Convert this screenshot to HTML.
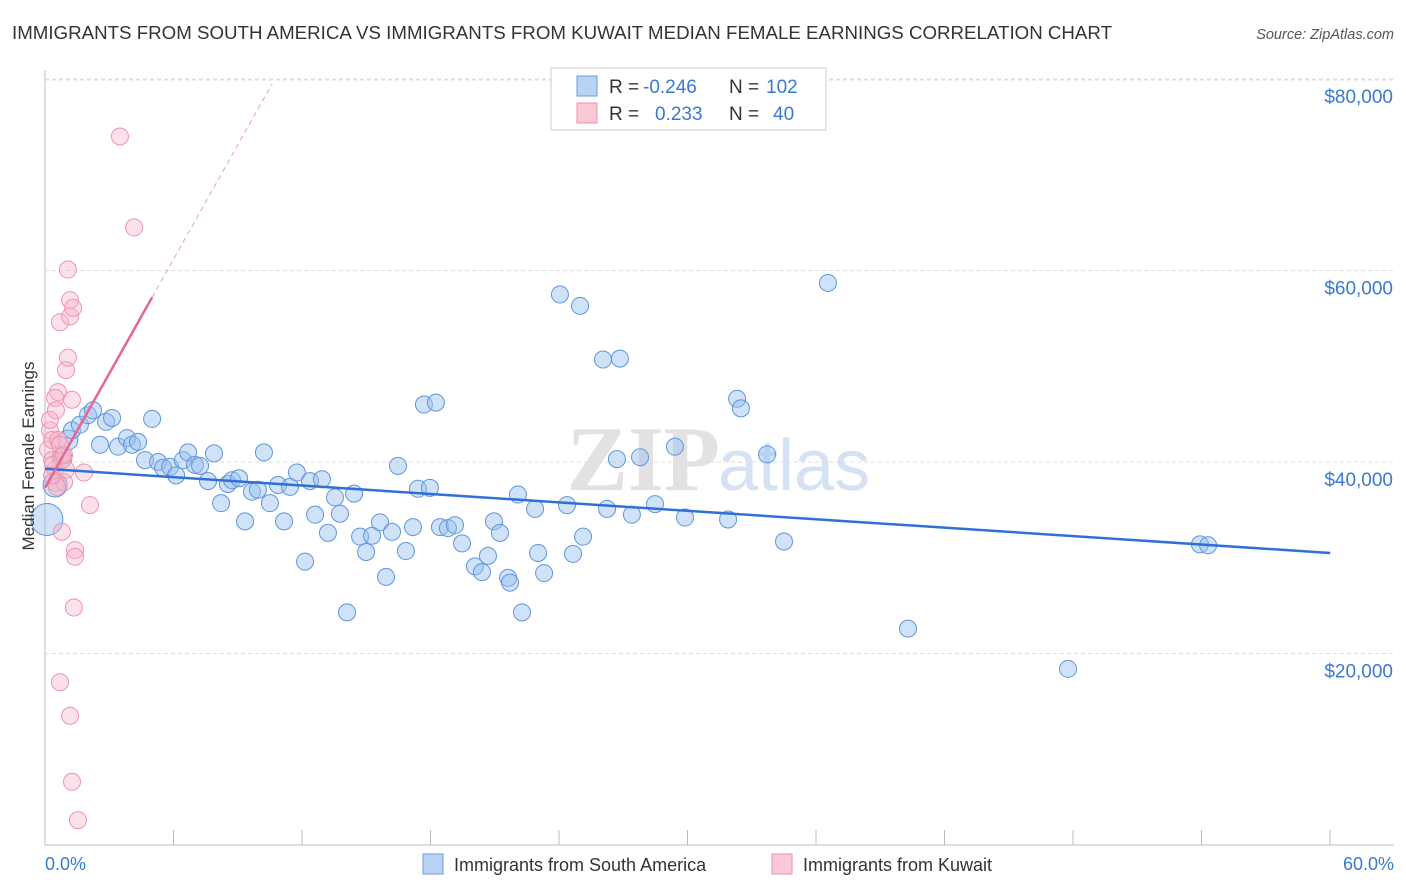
<!DOCTYPE html>
<html><head><meta charset="utf-8"><style>
body{margin:0;background:#fff;font-family:"Liberation Sans",sans-serif;}
</style></head><body>
<svg id="c" width="1406" height="892" xmlns="http://www.w3.org/2000/svg" style="display:block">
<text x="12" y="39" font-size="18" fill="#333" textLength="1100" lengthAdjust="spacingAndGlyphs">IMMIGRANTS FROM SOUTH AMERICA VS IMMIGRANTS FROM KUWAIT MEDIAN FEMALE EARNINGS CORRELATION CHART</text>
<text x="1394" y="39" font-size="14.5" fill="#555" font-style="italic" text-anchor="end">Source: ZipAtlas.com</text>
<text x="720" y="490" font-size="92" fill="#e2e2e2" text-anchor="end" font-family="Liberation Serif" font-weight="bold">ZIP</text>
<text x="718" y="490" font-size="72" fill="#d4e2f4">atlas</text>
<g id="grid"></g><g id="marks"></g>
<text transform="translate(34,456) rotate(-90)" font-size="17" fill="#333" text-anchor="middle">Median Female Earnings</text>
<text x="45" y="870" font-size="18" fill="#3a78d6">0.0%</text>
<text x="1394" y="870" font-size="18" fill="#3a78d6" text-anchor="end">60.0%</text>
<g font-size="19">
<rect x="551" y="68" width="275" height="62" fill="#fff" stroke="#ccc"/>
<rect x="577" y="76" width="20" height="20" fill="#b9d3f5" stroke="#6b9de0"/>
<rect x="577" y="103" width="20" height="20" fill="#fbc8d6" stroke="#ec8fac"/>
<text x="609" y="93" fill="#333">R =</text><text x="643" y="93" fill="#3a78d6">-0.246</text>
<text x="729" y="93" fill="#333">N =</text><text x="766" y="93" fill="#3a78d6">102</text>
<text x="609" y="120" fill="#333">R =</text><text x="655" y="120" fill="#3a78d6">0.233</text>
<text x="729" y="120" fill="#333">N =</text><text x="773" y="120" fill="#3a78d6">40</text>
</g>
<g>
<rect x="423" y="854" width="20" height="20" fill="#b9d3f5" stroke="#6b9de0"/>
<text x="454" y="871" font-size="18" fill="#333">Immigrants from South America</text>
<rect x="772" y="854" width="20" height="20" fill="#fbc8d6" stroke="#ec8fac"/>
<text x="803" y="871" font-size="18" fill="#333">Immigrants from Kuwait</text>
</g>
</svg>
<script>
const yTicks=[20,40,60,80];
const yTickLabels=["$20,000","$40,000","$60,000","$80,000"];
const blueX=[0.09,0.47,0.79,1.07,1.26,1.63,2.01,2.24,2.57,2.85,3.13,3.41,3.83,4.06,4.34,4.67,5.00,5.28,5.51,5.84,6.12,6.44,6.68,7.00,7.24,7.61,7.89,8.22,8.54,8.73,9.06,9.34,9.66,9.94,10.22,10.50,10.88,11.16,11.44,11.76,12.14,12.37,12.61,12.93,13.21,13.54,13.77,14.10,14.43,14.71,14.99,15.27,15.64,15.92,16.20,16.48,16.85,17.18,17.41,17.69,17.97,18.25,18.44,18.81,19.14,19.47,20.07,20.40,20.68,20.96,21.24,21.62,21.71,22.08,22.27,22.88,23.02,23.30,24.04,24.37,24.65,24.98,25.12,26.05,26.24,26.70,26.84,27.40,27.78,28.48,29.41,29.88,31.89,32.31,32.49,33.71,34.50,36.55,40.29,47.76,53.92,54.30];
const blueY=[34.0,37.6,40.4,42.3,43.3,43.9,44.9,45.4,41.8,44.2,44.6,41.6,42.5,41.8,42.1,40.2,44.5,40.0,39.4,39.5,38.6,40.2,41.0,39.7,39.6,38.0,40.9,35.7,37.7,38.1,38.3,33.8,36.9,37.1,41.0,35.7,37.6,33.8,37.4,38.9,29.6,38.0,34.5,38.2,32.6,36.3,34.6,24.3,36.7,32.2,30.6,32.3,33.7,28.0,32.7,39.6,30.7,33.2,37.2,46.0,37.3,46.2,33.2,33.1,33.4,31.5,29.1,28.5,30.2,33.8,32.6,27.9,27.4,36.6,24.3,35.1,30.5,28.4,57.5,35.5,30.4,56.3,32.2,50.7,35.1,40.3,50.8,34.5,40.5,35.6,41.6,34.2,34.0,46.6,45.6,40.8,31.7,58.7,22.6,18.4,31.4,31.3];
const pinkX=[0.14,0.23,0.33,0.47,0.51,0.61,0.70,0.79,0.89,0.98,1.07,1.07,1.17,1.17,1.26,1.31,1.35,1.40,1.40,1.82,2.10,0.79,0.70,1.17,1.26,1.54,3.50,4.16,0.33,0.47,0.23,0.61,0.79,0.56,0.37,0.98,0.33,0.70,0.51,0.89];
const pinkY=[41.3,43.3,42.3,39.2,37.8,47.3,54.6,40.2,37.9,49.6,60.1,50.9,55.2,56.9,46.5,56.1,24.8,30.8,30.1,38.9,35.5,32.7,17.0,13.5,6.6,2.6,74.0,64.5,40.2,46.7,44.4,42.3,40.7,37.4,39.7,39.2,38.6,41.8,45.4,40.7];
const blueTrend=[39.3,30.5];
const pinkTrend=[37.3,3.98];
const NS="http://www.w3.org/2000/svg";
const xs=v=>45+v*21.42, ys=v=>845-v*9.575;
function mk(t,a,p){const e=document.createElementNS(NS,t);for(const k in a)e.setAttribute(k,a[k]);p.appendChild(e);return e;}
const g=document.getElementById('grid'), m=document.getElementById('marks');
mk('line',{x1:45,y1:70,x2:45,y2:845,stroke:'#bbb'},g);
mk('line',{x1:45,y1:845,x2:1394,y2:845,stroke:'#bbb'},g);
for(let i=0;i<=10;i++){mk('line',{x1:45+i*128.5,y1:830,x2:45+i*128.5,y2:845,stroke:'#bbb'},g);}
mk('line',{x1:45,y1:ys(80)+1,x2:1394,y2:ys(80)+1,stroke:'#ddd','stroke-dasharray':'4 3'},g);
yTicks.forEach((t,i)=>{
 const l=mk('line',{x1:45,y1:ys(t),x2:1394,y2:ys(t),stroke:'#ddd','stroke-dasharray':'4 3'},g);
 
 
 const tx=mk('text',{x:1393,y:ys(t)+24,'font-size':19,fill:'#3a78d6','text-anchor':'end'},g);
 tx.textContent=yTickLabels[i];
 
 
});
blueX.forEach((x,i)=>{
 const r=i==0?16:(i==1?12:(i<4?10:8.5));
 const c=mk('circle',{cx:xs(x),cy:ys(blueY[i]),r:r,fill:'rgba(150,190,240,0.45)',stroke:'#5f95dd','stroke-width':1},m);
 
 
});
pinkX.forEach((x,i)=>{
 const c=mk('circle',{cx:xs(x),cy:ys(pinkY[i]),r:8.5,fill:'rgba(248,180,200,0.4)',stroke:'#ee93b0','stroke-width':1},m);
 
 
});
const bl=mk('line',{x1:xs(0),y1:ys(blueTrend[0]),x2:xs(60),y2:ys(blueTrend[1]),stroke:'#2f6fd8','stroke-width':2.5},m);


const pl=mk('line',{x1:xs(0),y1:ys(pinkTrend[0]),x2:xs(5),y2:ys(pinkTrend[0]+5*pinkTrend[1]),stroke:'#e56690','stroke-width':2.5},m);


const pd=mk('line',{x1:xs(5),y1:ys(pinkTrend[0]+5*pinkTrend[1]),x2:xs(10.6),y2:ys(pinkTrend[0]+10.6*pinkTrend[1]),stroke:'#eaa0b8','stroke-width':1,'stroke-dasharray':'5 4'},m);


</script>
</body></html>
